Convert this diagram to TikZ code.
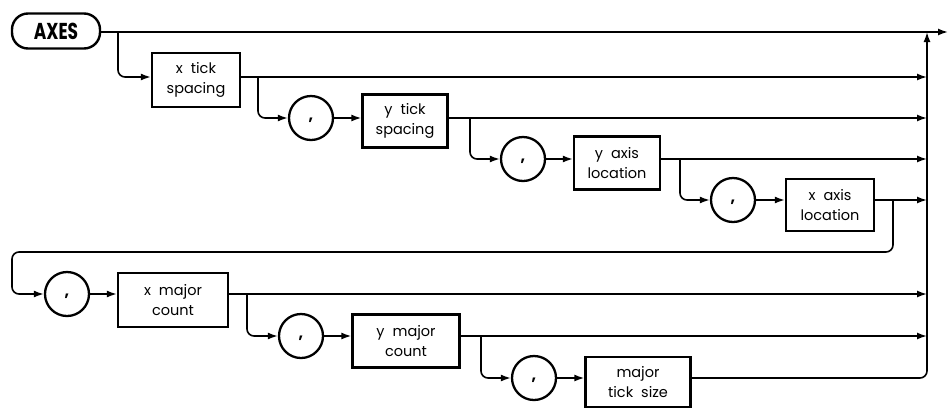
\documentclass[tikz,border=0pt]{standalone}
\usepackage{fontspec}
\setmainfont{Poppins}
\usetikzlibrary{arrows.meta}
\newcommand{\gap}{\hspace{0.55em}}
\newcommand{\cm}{\raisebox{-2pt}{,}}
\begin{document}
\begin{tikzpicture}[x=1pt,y=-1pt,
  wire/.style={line width=1.6pt},
  arr/.style={wire,-{Latex[length=10pt,width=7pt]}},
  rc/.style={rounded corners=7pt},
  term/.style={draw,line width=2.4pt,rounded corners=16pt,minimum width=88pt,minimum height=35pt,inner sep=0pt},
  nt/.style={draw,line width=2.3pt,inner sep=0pt,align=center,font=\fontsize{14.5}{20}\selectfont},
  lit/.style={draw,circle,line width=2.3pt,minimum size=44pt,inner sep=0pt,text height=0pt,text depth=0pt,font=\fontsize{16}{16}\selectfont\bfseries}]
\useasboundingbox (0,0) rectangle (949,408);
% line levels and collector
\coordinate (l1) at (0,77);
\coordinate (k) at (927,0);
\coordinate (top) at (927,32);
\coordinate (out) at (948,32);
\coordinate (j1) at (118,32);
\coordinate (j2) at (258,77);
\coordinate (j3) at (470,118);
\coordinate (j4) at (680,159);
\coordinate (j5) at (893,200);
\coordinate (m1) at (893,252);
\coordinate (m2) at (12,252);
\coordinate (j6) at (247,294);
\coordinate (j7) at (481,336);
% nodes
\node[term] (axes) at (56,31) {\fontsize{23}{23}\selectfont\bfseries\scalebox{0.74}[1]{AXES}};
\node[nt,minimum width=88pt,minimum height=54pt] (b1) at (196,80) {x\gap tick\\spacing};
\node[lit] (c1) at (311,118) {\cm};
\node[nt,minimum width=85pt,minimum height=53pt] (b2) at (405,121) {y\gap tick\\spacing};
\node[lit] (c2) at (523,159) {\cm};
\node[nt,minimum width=86pt,minimum height=53pt] (b3) at (617,163) {y\gap axis\\location};
\node[lit] (c3) at (733,200) {\cm};
\node[nt,minimum width=88pt,minimum height=52pt] (b4) at (830,205) {x\gap axis\\location};
\node[lit] (c4) at (67,294) {\cm};
\node[nt,minimum width=110pt,minimum height=54pt] (b5) at (173,300) {x\gap major\\count};
\node[lit] (c5) at (301,336) {\cm};
\node[nt,minimum width=107pt,minimum height=53pt] (b6) at (406,341) {y\gap major\\count};
\node[lit] (c6) at (534,378) {\cm};
\node[nt,minimum width=105pt,minimum height=50pt] (b7) at (638,382) {major\\tick\gap size};
% connectors
\draw[arr] (axes.east |- top) -- (out);
\draw[arr,rc] (j1) |- (b1.west |- l1);
\draw[arr] (b1.east |- l1) -- (k |- l1);
\draw[arr,rc] (j2) |- (c1.west);
\draw[arr] (c1.east) -- (b2.west |- c1);
\draw[arr] (b2.east |- c1) -- (k |- c1);
\draw[arr,rc] (j3) |- (c2.west);
\draw[arr] (c2.east) -- (b3.west |- c2);
\draw[arr] (b3.east |- c2) -- (k |- c2);
\draw[arr,rc] (j4) |- (c3.west);
\draw[arr] (c3.east) -- (b4.west |- c3);
\draw[arr] (b4.east |- c3) -- (k |- c3);
\draw[arr,rc] (j5) -- (m1) -- (m2) |- (c4.west);
\draw[arr] (c4.east) -- (b5.west |- c4);
\draw[arr] (b5.east |- c4) -- (k |- c4);
\draw[arr,rc] (j6) |- (c5.west);
\draw[arr] (c5.east) -- (b6.west |- c5);
\draw[arr] (b6.east |- c5) -- (k |- c5);
\draw[arr,rc] (j7) |- (c6.west);
\draw[arr] (c6.east) -- (b7.west |- c6);
\draw[arr,rc] (b7.east |- c6) -| (top);
\end{tikzpicture}
\end{document}
